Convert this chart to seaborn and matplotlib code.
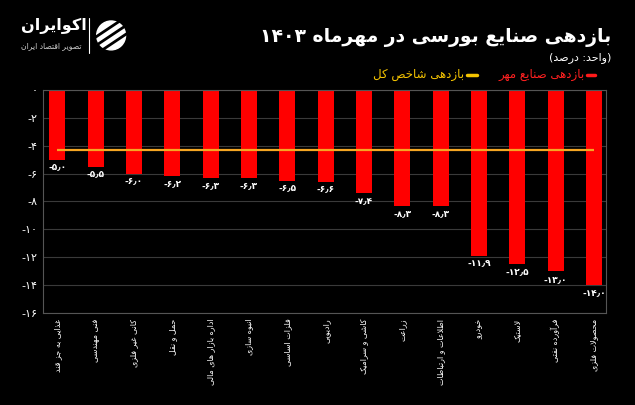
import matplotlib
matplotlib.use("Agg")
import matplotlib.pyplot as plt
import numpy as np
import pandas as pd
import seaborn as sns
from matplotlib.patches import Circle

# data
categories = [
    "غذایی به جز قند", "فنی مهندسی", "کانی غیر فلزی", "حمل و نقل",
    "اداره بازار های مالی", "انبوه سازی", "فلزات اساسی", "رادیویی",
    "کاشی و سرامیک", "زراعت", "اطلاعات و ارتباطات", "خودرو",
    "لاستیک", "فرآورده نفتی", "محصولات فلزی",
]
returns = [-5.0, -5.5, -6.0, -6.2, -6.3, -6.3, -6.5, -6.6, -7.4, -8.3, -8.3, -11.9, -12.5, -13.0, -14.0]
index_return = -4.3
y_ticks = [0, -2, -4, -6, -8, -10, -12, -14, -16]

title = "بازدهی صنایع بورسی در مهرماه ۱۴۰۳"
subtitle = "(واحد: درصد)"
legend_bars = "بازدهی صنایع مهر"
legend_index = "بازدهی شاخص کل"

# --- minimal arabic/persian shaping (matplotlib has no text shaping) ---
FORMS = {
    "ا": ("\uFE8D", "\uFE8E", None, None), "آ": ("\uFE81", "\uFE82", None, None),
    "ب": ("\uFE8F", "\uFE90", "\uFE91", "\uFE92"), "پ": ("\uFB56", "\uFB57", "\uFB58", "\uFB59"),
    "ت": ("\uFE95", "\uFE96", "\uFE97", "\uFE98"), "ث": ("\uFE99", "\uFE9A", "\uFE9B", "\uFE9C"),
    "ج": ("\uFE9D", "\uFE9E", "\uFE9F", "\uFEA0"), "چ": ("\uFB7A", "\uFB7B", "\uFB7C", "\uFB7D"),
    "ح": ("\uFEA1", "\uFEA2", "\uFEA3", "\uFEA4"), "خ": ("\uFEA5", "\uFEA6", "\uFEA7", "\uFEA8"),
    "د": ("\uFEA9", "\uFEAA", None, None), "ذ": ("\uFEAB", "\uFEAC", None, None),
    "ر": ("\uFEAD", "\uFEAE", None, None), "ز": ("\uFEAF", "\uFEB0", None, None),
    "ژ": ("\uFB8A", "\uFB8B", None, None),
    "س": ("\uFEB1", "\uFEB2", "\uFEB3", "\uFEB4"), "ش": ("\uFEB5", "\uFEB6", "\uFEB7", "\uFEB8"),
    "ص": ("\uFEB9", "\uFEBA", "\uFEBB", "\uFEBC"), "ض": ("\uFEBD", "\uFEBE", "\uFEBF", "\uFEC0"),
    "ط": ("\uFEC1", "\uFEC2", "\uFEC3", "\uFEC4"), "ظ": ("\uFEC5", "\uFEC6", "\uFEC7", "\uFEC8"),
    "ع": ("\uFEC9", "\uFECA", "\uFECB", "\uFECC"), "غ": ("\uFECD", "\uFECE", "\uFECF", "\uFED0"),
    "ف": ("\uFED1", "\uFED2", "\uFED3", "\uFED4"), "ق": ("\uFED5", "\uFED6", "\uFED7", "\uFED8"),
    "ک": ("\uFB8E", "\uFB8F", "\uFB90", "\uFB91"), "گ": ("\uFB92", "\uFB93", "\uFB94", "\uFB95"),
    "ل": ("\uFEDD", "\uFEDE", "\uFEDF", "\uFEE0"), "م": ("\uFEE1", "\uFEE2", "\uFEE3", "\uFEE4"),
    "ن": ("\uFEE5", "\uFEE6", "\uFEE7", "\uFEE8"), "و": ("\uFEED", "\uFEEE", None, None),
    "ه": ("\uFEE9", "\uFEEA", "\uFEEB", "\uFEEC"), "ی": ("\uFBFC", "\uFBFD", "\uFBFE", "\uFBFF"),
    "ئ": ("\uFE89", "\uFE8A", "\uFE8B", "\uFE8C"),
}
MIRROR = {"(": ")", ")": "("}


def shape(text):
    out = []
    i = 0
    while i < len(text):
        c = text[i]
        prev = text[i - 1] if i > 0 else ""
        joins_prev = prev in FORMS and FORMS[prev][2] is not None and c in FORMS
        if c == "ل" and i + 1 < len(text) and text[i + 1] in "اآ":
            out.append("\uFEFC" if joins_prev else "\uFEFB")
            i += 2
            continue
        if c in FORMS:
            nxt = text[i + 1] if i + 1 < len(text) else ""
            joins_next = FORMS[c][2] is not None and nxt in FORMS
            iso, fin, ini, med = FORMS[c]
            if joins_prev and joins_next:
                out.append(med)
            elif joins_prev:
                out.append(fin)
            elif joins_next:
                out.append(ini)
            else:
                out.append(iso)
        else:
            out.append(c)
        i += 1
    # visual order: reverse, but keep digit runs left-to-right
    runs, cur, cur_digit = [], "", None
    for ch in out:
        d = ch.isdigit()
        if cur and d != cur_digit:
            runs.append((cur, cur_digit))
            cur = ""
        cur += ch
        cur_digit = d
    if cur:
        runs.append((cur, cur_digit))
    vis = ""
    for r, d in reversed(runs):
        vis += r if d else "".join(MIRROR.get(ch, ch) for ch in reversed(r))
    return vis


def fa_num(v, dec=True):
    s = f"{v:.1f}" if dec else f"{v:d}"
    s = s.replace(".", "\u066B")
    return s.translate(str.maketrans("0123456789", "۰۱۲۳۴۵۶۷۸۹"))


sns.set_theme(style="dark")
plt.rcParams["font.family"] = ["DejaVu Sans"]
plt.rcParams["figure.facecolor"] = "black"
plt.rcParams["axes.facecolor"] = "black"

df = pd.DataFrame({"category": categories, "value": returns})

fig = plt.figure(figsize=(6.35, 4.05), dpi=100)
ax = fig.add_axes([0.068, 0.227, 0.886, 0.551])

sns.barplot(data=df, x="category", y="value", color="#ff0000", saturation=1, width=0.42,
            edgecolor="none", linewidth=0, ax=ax)
ax.hlines(index_return, 0, len(categories) - 1, color="#f5a623", lw=1.6, zorder=3)

for i, v in enumerate(returns):
    ax.text(i, v - 0.25, fa_num(v), color="white", fontsize=6.5, ha="center", va="top", fontweight="bold")

ax.set_ylim(-16, 0)
ax.set_xlim(-0.37, len(categories) - 1 + 0.31)
ax.set_yticks(y_ticks)
ax.set_yticklabels([fa_num(t, dec=False) for t in y_ticks], color="white", fontsize=8)
ax.set_xticks(range(len(categories)))
ax.set_xticklabels([shape(c) for c in categories], rotation=90, color="white", fontsize=5.8)
ax.tick_params(axis="both", length=0, pad=4)
ax.set_xlabel("")
ax.set_ylabel("")
ax.grid(axis="y", color="#3a3a3a", lw=0.8)
ax.set_axisbelow(True)
for s in ax.spines.values():
    s.set_visible(True)
    s.set_color("#555555")
    s.set_linewidth(0.8)

# titles
fig.text(0.963, 0.908, shape(title), color="white", fontsize=13.5, fontweight="bold", ha="right", va="center")
fig.text(0.963, 0.858, shape(subtitle), color="white", fontsize=8, ha="right", va="center")

# legend (right to left)
fig.lines.append(plt.Line2D([0.924, 0.937], [0.815, 0.815], color="#ff1a1a", lw=2.5, transform=fig.transFigure))
fig.text(0.921, 0.815, shape(legend_bars), color="#ff2020", fontsize=8.5, ha="right", va="center")
fig.lines.append(plt.Line2D([0.735, 0.751], [0.815, 0.815], color="#f5c400", lw=2.5, transform=fig.transFigure))
fig.text(0.731, 0.815, shape(legend_index), color="#f5c400", fontsize=8.5, ha="right", va="center")

# logo
fig.text(0.033, 0.935, shape("اکوایران"), color="white", fontsize=11.5, fontweight="bold", ha="left", va="center")
fig.text(0.033, 0.888, shape("تصویر اقتصاد ایران"), color="#cccccc", fontsize=5.5, ha="left", va="center")
fig.lines.append(plt.Line2D([0.14, 0.14], [0.87, 0.955], color="white", lw=0.8, transform=fig.transFigure))
logo = fig.add_axes([0.15, 0.865, 0.05, 0.095])
logo.set_aspect("equal")
logo.axis("off")
logo.add_patch(Circle((0, 0), 1, color="white"))
for off in [-0.6, 0.0, 0.6]:
    logo.plot([-1.2, 1.2], [off - 0.8, off + 0.8], color="black", lw=2.0)
logo.set_xlim(-1.1, 1.1)
logo.set_ylim(-1.1, 1.1)

fig.savefig("out.png", dpi=100, facecolor="black")
